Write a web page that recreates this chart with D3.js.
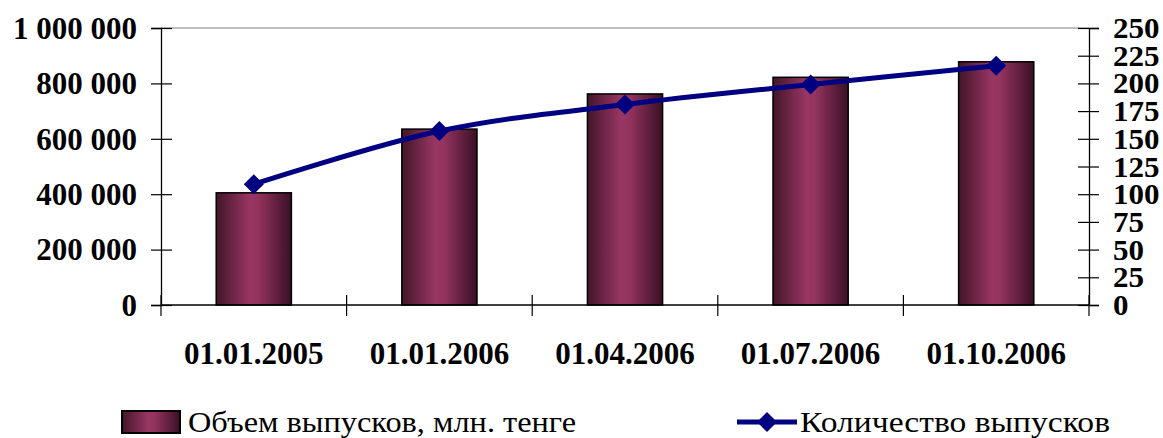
<!DOCTYPE html>
<html><head><meta charset="utf-8">
<script src="https://cdn.jsdelivr.net/npm/d3@7"></script>
<style>body{margin:0;background:#fff}svg{display:block}</style>
</head><body>
<script>
const categories = ["01.01.2005","01.01.2006","01.04.2006","01.07.2006","01.10.2006"];
const volumeValues = [405000, 635000, 762000, 822000, 878000];
const countValues = [109, 157, 181, 199, 216];
const leftTicks = [0,200000,400000,600000,800000,1000000];
const rightTicks = [0,25,50,75,100,125,150,175,200,225,250];
const seriesNames = ["Объем выпусков, млн. тенге","Количество выпусков"];

const W=1163,H=438;
const m={l:161,r:1089,t:28,b:305};
const svg=d3.select("body").append("svg").attr("width",W).attr("height",H);
const defs=svg.append("defs");
const g=defs.append("linearGradient").attr("id","barGrad").attr("x1","0").attr("x2","1").attr("y1","0").attr("y2","0");
[["0%","#421629"],["45%","#993663"],["55%","#953460"],["100%","#3a1024"]].forEach(s=>g.append("stop").attr("offset",s[0]).attr("stop-color",s[1]));

const x=d3.scaleBand().domain(categories).range([m.l,m.r]).paddingInner(0).paddingOuter(0);
const yL=d3.scaleLinear().domain([0,1000000]).range([m.b,m.t]);
const yR=d3.scaleLinear().domain([0,250]).range([m.b,m.t]);
const font="'Liberation Serif','Times New Roman',serif";
const fmt=v=>d3.format(",")(v).replace(/,/g," ");

// top border
svg.append("line").attr("x1",m.l).attr("x2",m.r).attr("y1",m.t).attr("y2",m.t).attr("stroke","#7f7f7f").attr("stroke-width",1);

// bars
const bw=x.bandwidth()*0.405;
svg.selectAll("rect.bar").data(categories).enter().append("rect")
 .attr("x",(d)=>x(d)+x.bandwidth()/2-bw/2)
 .attr("y",(d,i)=>yL(volumeValues[i]))
 .attr("width",bw)
 .attr("height",(d,i)=>m.b-yL(volumeValues[i]))
 .attr("fill","url(#barGrad)").attr("stroke","#000").attr("stroke-width",1.5);

// left axis
const la=svg.append("g").attr("transform",`translate(${m.l},0)`)
 .call(d3.axisLeft(yL).tickValues(leftTicks).tickFormat(fmt).tickSize(10).tickPadding(14));
la.select(".domain").attr("stroke","#000").attr("stroke-width",1.3);
la.selectAll(".tick line").attr("x2",-10).attr("x1",11).attr("stroke","#000").attr("stroke-width",1.2);
la.selectAll("text").attr("font-family",font).attr("font-weight","bold").attr("font-size",31).attr("fill","#000").attr("x",-24).attr("dy","0.33em");

// right axis
const ra=svg.append("g").attr("transform",`translate(${m.r},0)`)
 .call(d3.axisRight(yR).tickValues(rightTicks).tickFormat(d3.format("d")).tickSize(10));
ra.select(".domain").attr("stroke","#000").attr("stroke-width",1.3);
ra.selectAll(".tick line").attr("x1",-11).attr("x2",10).attr("stroke","#000").attr("stroke-width",1.2);
ra.selectAll("text").attr("font-family",font).attr("font-weight","bold").attr("font-size",29).attr("fill","#000").attr("x",24).attr("dy","0.33em")
 .attr("textLength",function(){return this.textContent.length*15.5;}).attr("lengthAdjust","spacingAndGlyphs");

// bottom axis
const bTicks=categories.map(c=>x(c)).concat([m.r]);
svg.append("line").attr("x1",m.l).attr("x2",m.r).attr("y1",m.b).attr("y2",m.b).attr("stroke","#000").attr("stroke-width",1.3);
svg.selectAll("line.ct").data(bTicks).enter().append("line").attr("class","ct")
 .attr("x1",d=>d).attr("x2",d=>d).attr("y1",m.b-10).attr("y2",m.b+11).attr("stroke","#000").attr("stroke-width",1.2);
svg.selectAll("text.cat").data(categories).enter().append("text")
 .attr("x",d=>x(d)+x.bandwidth()/2).attr("y",364).attr("text-anchor","middle")
 .attr("font-family",font).attr("font-weight","bold").attr("font-size",31).text(d=>d);

// line
const pts=categories.map((c,i)=>[x(c)+x.bandwidth()/2,yR(countValues[i])]);
svg.append("path").attr("d",d3.line().curve(d3.curveCardinal.tension(0))(pts))
 .attr("fill","none").attr("stroke","#000080").attr("stroke-width",5);
const diamond=d3.symbol().type(d3.symbolSquare).size(200);
svg.selectAll("path.mk").data(pts).enter().append("path")
 .attr("d",diamond()).attr("transform",d=>`translate(${d[0]},${d[1]}) rotate(45)`).attr("fill","#000080");

// legend
svg.append("rect").attr("x",122).attr("y",411).attr("width",58).attr("height",22).attr("fill","url(#barGrad)").attr("stroke","#000").attr("stroke-width",2);
svg.append("text").attr("x",188).attr("y",432).attr("font-family",font).attr("font-size",29).attr("textLength",388).attr("lengthAdjust","spacingAndGlyphs").text(seriesNames[0]);
svg.append("line").attr("x1",737).attr("x2",797).attr("y1",422).attr("y2",422).attr("stroke","#000080").attr("stroke-width",5);
svg.append("path").attr("d",diamond()).attr("transform","translate(767,422) rotate(45)").attr("fill","#000080");
svg.append("text").attr("x",800).attr("y",432).attr("font-family",font).attr("font-size",29).attr("textLength",310).attr("lengthAdjust","spacingAndGlyphs").text(seriesNames[1]);
</script>
</body></html>
